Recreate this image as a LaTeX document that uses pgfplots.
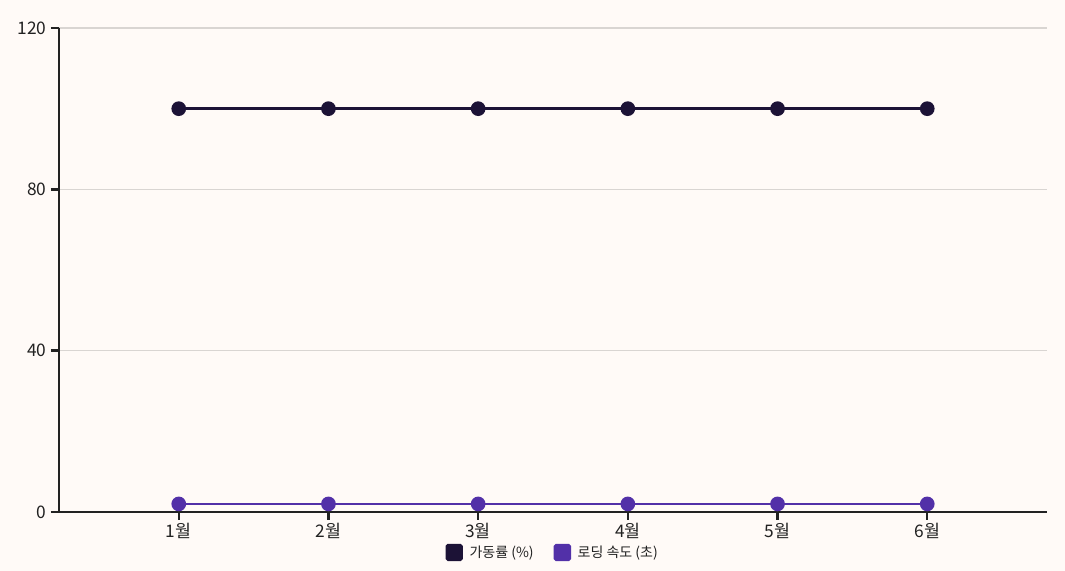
\documentclass[border=0pt]{standalone}
\usepackage{pgfplots}
\pgfplotsset{compat=1.18}
\usepackage{fontspec}
\setmainfont{Noto Sans CJK KR}
\definecolor{bgc}{HTML}{FFFAF7}
\definecolor{sera}{HTML}{1C1236}
\definecolor{serb}{HTML}{5230A8}
\definecolor{gridc}{HTML}{D9D5D2}
\definecolor{axc}{HTML}{222222}
\begin{document}
\begin{tikzpicture}
\fill[bgc] (-44.25pt,-44.25pt) rectangle (754.5pt,384pt);
\path[use as bounding box] (-44.25pt,-44.25pt) rectangle (754.5pt,384pt);
\begin{axis}[
  at={(0,0)}, anchor=south west,
  scale only axis,
  width=741pt, height=363pt,
  xmin=-0.8, xmax=5.8,
  ymin=0, ymax=120,
  ytick={0,40,80,120},
  xtick={0,...,5},
  xticklabels={1월,2월,3월,4월,5월,6월},
  axis lines=left,
  axis line style={-, axc, line width=1.8pt},
  tick style={axc, line width=1.8pt},
  tick align=outside,
  major tick length=6pt,
  ymajorgrids,
  grid style={gridc, line width=0.8pt},
  every tick label/.style={font=\fontsize{13}{15}\selectfont, text=axc},
  /pgf/number format/assume math mode=true,
  xticklabel style={yshift=1pt},
  legend style={at={(0.5,-0.085)}, anchor=center, draw=none, fill=none,
    font=\fontsize{10.5}{12}\selectfont, text=axc,
    /tikz/every odd column/.append style={column sep=3pt},
    /tikz/every even column/.append style={column sep=13pt}},
  legend columns=2,
  legend image code/.code={\fill[#1, rounded corners=1pt] (0pt,-5pt) rectangle (11pt,6pt);},
]
\addplot[sera, line width=2pt, mark=*, mark size=4.5pt, mark options={fill=sera, draw=none}, legend image post style={fill=sera, draw=none}]
  coordinates {(0,100) (1,100) (2,100) (3,100) (4,100) (5,100)};
\addlegendentry{가동률 (\%)}
\addplot[serb, line width=2pt, mark=*, mark size=4.5pt, mark options={fill=serb, draw=none}, legend image post style={fill=serb, draw=none}]
  coordinates {(0,2) (1,2) (2,2) (3,2) (4,2) (5,2)};
\addlegendentry{로딩 속도 (초)}
\end{axis}
\end{tikzpicture}
\end{document}
